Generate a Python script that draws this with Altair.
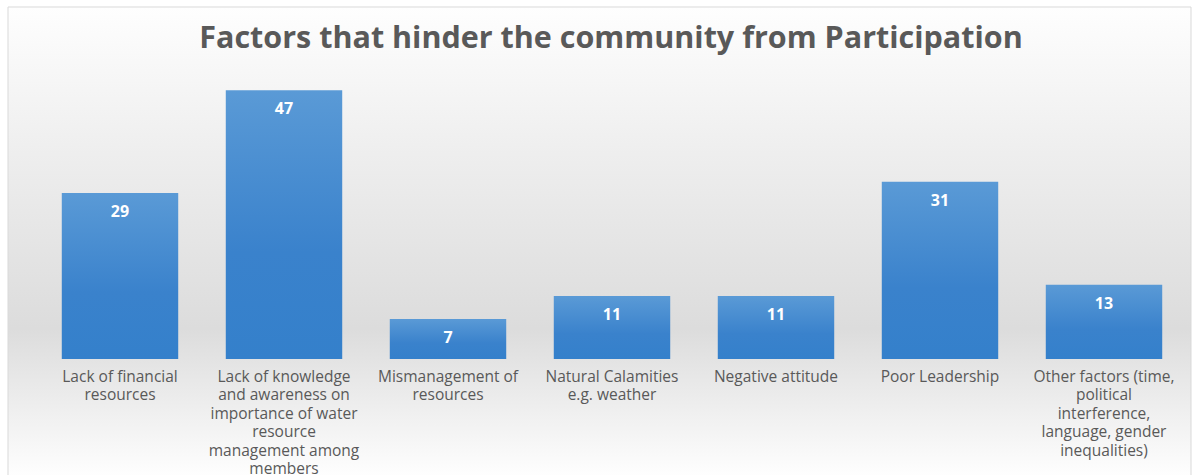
import altair as alt
import pandas as pd

categories = [
    "Lack of financial\nresources",
    "Lack of knowledge\nand awareness on\nimportance of water\nresource\nmanagement among\nmembers",
    "Mismanagement of\nresources",
    "Natural Calamities\ne.g. weather",
    "Negative attitude",
    "Poor Leadership",
    "Other factors (time,\npolitical\ninterference,\nlanguage, gender\ninequalities)",
]
values = [29, 47, 7, 11, 11, 31, 13]
title_text = "Factors that hinder the community from Participation"

df = pd.DataFrame({"factor": categories, "count": values})

W, H = 1148, 286
PAD_L, PAD_T = 38, 73
YMAX = 50

bg = alt.Chart(pd.DataFrame({"a": [0]})).mark_rect(
    fill=alt.Gradient(
        gradient="linear",
        x1=0, x2=0, y1=0, y2=1,
        stops=[
            alt.GradientStop(color="#fefefe", offset=0),
            alt.GradientStop(color="#ececec", offset=0.35),
            alt.GradientStop(color="#dcdcdc", offset=0.68),
            alt.GradientStop(color="#f4f4f4", offset=0.9),
            alt.GradientStop(color="#ffffff", offset=1),
        ],
    ),
    stroke="#d9d9d9",
    strokeWidth=1,
).encode(
    x=alt.value(8 - PAD_L),
    x2=alt.value(1191 - PAD_L),
    y=alt.value(7 - PAD_T),
    y2=alt.value(480 - PAD_T),
)

title = alt.Chart(pd.DataFrame({"t": [title_text]})).mark_text(
    font="Open Sans",
    fontSize=30.5,
    fontWeight="bold",
    color="#595959",
    align="center",
    baseline="middle",
).encode(x=alt.value(W / 2 - 1), y=alt.value(39 - PAD_T), text="t:N")

xenc = alt.X(
    "factor:N",
    sort=categories,
    scale=alt.Scale(paddingInner=0.29, paddingOuter=0.145),
    axis=alt.Axis(
        title=None,
        labelAngle=0,
        labelExpr="split(datum.label, '\\n')",
        labelFont="Open Sans",
        labelFontSize=15.5,
        labelColor="#595959",
        labelLineHeight=18.5,
        labelPadding=10,
        labelLimit=300,
        ticks=False,
        domain=False,
        grid=False,
        zindex=1,
    ),
)
yenc = alt.Y("count:Q", scale=alt.Scale(domain=[0, YMAX]), axis=None)

bars = alt.Chart(df).mark_bar(
    color=alt.Gradient(
        gradient="linear",
        x1=0, x2=0, y1=0, y2=1,
        stops=[
            alt.GradientStop(color="#5a9ad6", offset=0),
            alt.GradientStop(color="#3a82cc", offset=0.6),
            alt.GradientStop(color="#3480cb", offset=1),
        ],
    )
).encode(x=xenc, y=yenc)

labels = alt.Chart(df).mark_text(
    color="white",
    font="Open Sans",
    fontWeight="bold",
    fontSize=16,
    baseline="middle",
    dy=19,
).encode(x=alt.X("factor:N", sort=categories), y="count:Q", text="count:Q")

chart = alt.layer(bg, title, bars, labels).properties(
    width=W,
    height=H,
    padding={"left": PAD_L, "top": PAD_T, "right": 1199 - PAD_L - W, "bottom": 475 - PAD_T - H},
    autosize=alt.AutoSizeParams(type="none"),
    background="white",
).configure_view(stroke=None)

chart.save("out.html", embed_options={"renderer": "svg", "actions": False})
